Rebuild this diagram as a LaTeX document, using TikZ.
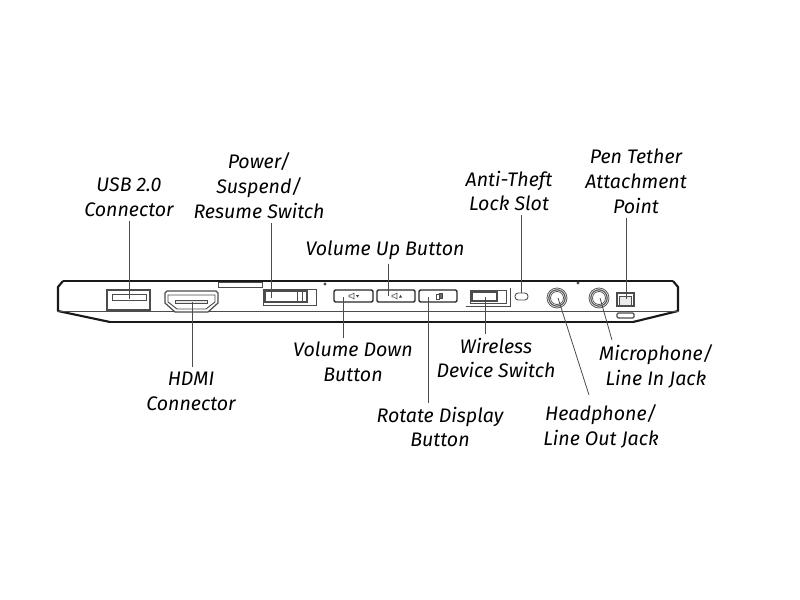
\documentclass[tikz,border=0pt]{standalone}
\usepackage{fontspec}
\setmainfont{Fira Sans}
\usetikzlibrary{positioning}
\begin{document}
\begin{tikzpicture}[
    x=0.75pt, y=-0.75pt,
    label/.style={align=center, font=\fontsize{14.7}{18.7}\selectfont\itshape, inner sep=0pt, text=black},
    leader/.style={draw=black!70, line width=0.6pt},
    shell/.style={draw=black!90, line width=1.6pt, line join=round},
    edge/.style={draw=black!70, line width=0.6pt},
    port/.style={draw=black!70, line width=0.7pt},
    button/.style={draw=black!85, line width=1pt, rounded corners=1pt},
    jack/.style={draw=black!65, line width=0.6pt},
]
\useasboundingbox (0,0) rectangle (800,600);

% Body
\draw[shell, line width=2pt] (110,322) -- (633,322);
\draw[shell] (63,281) -- (673,281);
\draw[shell] (63,281) -- (58,287) -- (58,311) -- (110,322);
\draw[shell] (673,281) -- (678,287) -- (678,311) -- (633,322);
\draw[edge] (58,311) -- (678,311);
\draw[port, fill=white] (218,282) rectangle (262,287);
\fill[black!70] (325,284) circle (1.6);
\fill[black!70] (578,283) circle (1.6);

% USB and HDMI
\draw[port, fill=white, line width=0.9pt] (107,290) rectangle (150,310);
\draw[port] (112,294) rectangle (146,300);
\draw[port, fill=white, line width=0.9pt] (165,293) -- (167,291) -- (216,291) -- (218,293) -- (218,303) -- (208,312) -- (175,312) -- (165,303) -- cycle;
\draw[port] (168,295) -- (215,295) -- (215,302) -- (206,309) -- (177,309) -- (168,302) -- cycle;
\draw[port, fill=black!10] (175,300) rectangle (207,303);

% Power switch
\draw[port] (263,289) -- (316,289) -- (316,305) -- (263,305) -- cycle;
\draw[port, line width=0.9pt] (265,291) rectangle (307,302);
\draw[port] (297,291) -- (297,302);
\draw[port] (302,291) -- (302,302);

% Buttons
\draw[button] (334,290) rectangle (373,302);
\draw[button] (377,290) rectangle (415,302);
\draw[button] (419,290) rectangle (457,302);
\draw[port, line width=0.4pt] (349,295) -- (351,295) -- (354,293) -- (354,299) -- (351,297) -- (349,297) -- cycle;
\fill[black!80] (356,295) -- (359,295) -- (357.5,297.5) -- cycle;
\draw[port, line width=0.4pt] (392,295) -- (394,295) -- (397,293) -- (397,299) -- (394,297) -- (392,297) -- cycle;
\fill[black!80] (399,297.5) -- (402,297.5) -- (400.5,295) -- cycle;
\draw[port, line width=0.4pt] (436,294) rectangle (439,299);
\draw[port, line width=0.4pt, fill=black!60] (439,293) rectangle (442,298);

% Wireless switch and lock slot
\draw[port] (470,290) -- (506,290) -- (506,303) -- (470,303) -- cycle;
\draw[port, line width=0.9pt] (472,292) rectangle (497,301);
\draw[port, line width=0.5pt] (510,288) -- (510,306) -- (466,306);
\draw[port, rounded corners=2.4pt] (515,293) rectangle (528,300);

% Jacks
\draw[jack] (557,298) circle (10);
\draw[jack, line width=0.9pt] (557,298) circle (8.2);
\draw[jack] (557,298) circle (6.5);
\draw[jack] (599,298) circle (10);
\draw[jack, line width=0.9pt] (599,298) circle (8.2);
\draw[jack] (599,298) circle (6.5);

% Pen tether
\draw[port, line width=0.9pt, fill=white] (617,293) rectangle (634,306);
\draw[port, fill=black!8] (619,296) rectangle (631,305);
\draw[port, line width=0.9pt, rounded corners=1pt, fill=white] (617,313) rectangle (634,318);

% Labels
\node[label] (usbl) at (129,197) {USB 2.0\\Connector};
\node[label] (pwrl) at (259,186) {Power/\\Suspend/\\Resume Switch};
\node[label] (upl)  at (385,250) {Volume Up Button};
\node[label] (dnl)  at (353,362) {Volume Down\\Button};
\node[label] (hdml) at (191,391) {HDMI\\Connector};
\node[label] (rotl) at (440,427) {Rotate Display\\Button};
\node[label] (wifl) at (496,358) {Wireless\\Device Switch};
\node[label] (lokl) at (509,191) {Anti-Theft\\Lock Slot};
\node[label] (penl) at (636,181) {Pen Tether\\Attachment\\Point};
\node[label] (hpl)  at (601,426) {Headphone/\\Line Out Jack};
\node[label] (micl) at (656,366) {Microphone/\\Line In Jack};

% Leader ends
\coordinate (usbp) at (129,299);
\coordinate (pwrp) at (271,298);
\coordinate (upp)  at (388,296);
\coordinate (dnp)  at (343,297);
\coordinate (hdmp) at (192,302);
\coordinate (rotp) at (428,297);
\coordinate (wifp) at (485,297);
\coordinate (lokp) at (521,293);
\coordinate (penp) at (626,299);
\coordinate (hpp)  at (558,298);
\coordinate (micp) at (600,298);
\coordinate (hpt)  at (589,395);
\coordinate (mict) at (612,340);

% Leaders
\draw[leader] ([yshift=-3pt]usbl.south -| usbp) -- (usbp);
\draw[leader] ([yshift=-3pt]pwrl.south -| pwrp) -- (pwrp);
\draw[leader] ([yshift=-3pt]upl.south -| upp) -- (upp);
\draw[leader] ([yshift=3pt]dnl.north -| dnp) -- (dnp);
\draw[leader] ([yshift=3pt]hdml.north -| hdmp) -- (hdmp);
\draw[leader] ([yshift=3pt]rotl.north -| rotp) -- (rotp);
\draw[leader] ([yshift=3pt]wifl.north -| wifp) -- (wifp);
\draw[leader] ([yshift=-3pt]lokl.south -| lokp) -- (lokp);
\draw[leader] ([yshift=-3pt]penl.south -| penp) -- (penp);
\draw[leader] (hpt) -- (hpp);
\draw[leader] (mict) -- (micp);
\end{tikzpicture}
\end{document}
